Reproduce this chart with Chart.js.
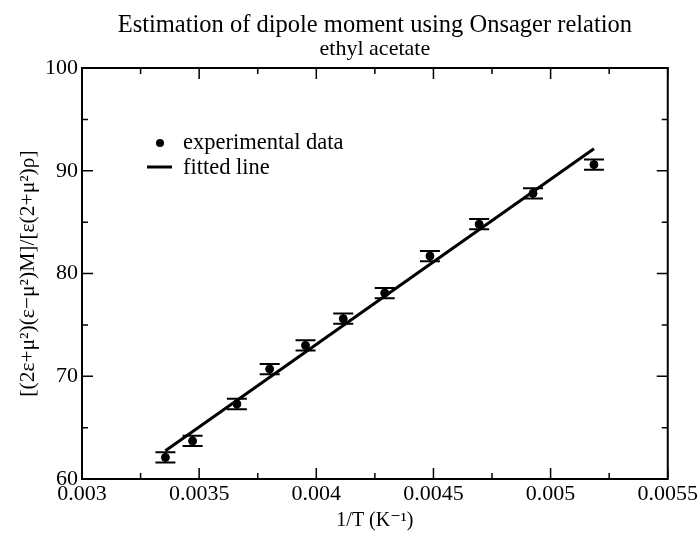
<!DOCTYPE html>
<html>
<head>
<meta charset="utf-8">
<script src="https://cdn.jsdelivr.net/npm/chart.js@4/dist/chart.umd.min.js"></script>
<style>
  html, body { margin: 0; padding: 0; background: #fff; }
  #wrap { width: 700px; height: 536px; }
</style>
</head>
<body>
<div id="wrap"><canvas id="c"></canvas></div>
<script>
// données
const invT = [0.003356, 0.003472, 0.003661, 0.003801, 0.003954, 0.004115, 0.004292, 0.004485, 0.004695, 0.004925, 0.005185];
const onsager = [62.1, 63.7, 67.3, 70.7, 73.0, 75.6, 78.1, 81.7, 84.8, 87.8, 90.6];
const errY = [0.5, 0.5, 0.5, 0.5, 0.5, 0.5, 0.5, 0.5, 0.5, 0.5, 0.5];
const fitX = [0.003356, 0.005185];
const fitY = [62.75, 92.15];
const xTicks = [0.003, 0.0035, 0.004, 0.0045, 0.005, 0.0055];
const xLabels = ["0.003", "0.0035", "0.004", "0.0045", "0.005", "0.0055"];
const yTicks = [60, 70, 80, 90, 100];

const serif = "'Liberation Serif', 'DejaVu Serif', serif";

// axes, ticks vers l'intérieur, barres d'erreur, légende, titre
const decor = {
  id: "decor",
  beforeDatasetsDraw(chart) {
    const { ctx, scales: { x, y } } = chart;
    ctx.save();
    ctx.strokeStyle = "#000";
    ctx.lineWidth = 2;
    ctx.beginPath();
    for (let i = 0; i < invT.length; i++) {
      const px = x.getPixelForValue(invT[i]);
      const top = y.getPixelForValue(onsager[i] + errY[i]);
      const bot = y.getPixelForValue(onsager[i] - errY[i]);
      ctx.moveTo(px, top); ctx.lineTo(px, bot);
      ctx.moveTo(px - 10, top); ctx.lineTo(px + 10, top);
      ctx.moveTo(px - 10, bot); ctx.lineTo(px + 10, bot);
    }
    ctx.stroke();
    ctx.restore();
  },
  afterDraw(chart) {
    const { ctx, chartArea: a, scales: { x, y } } = chart;
    ctx.save();
    ctx.strokeStyle = "#000";
    ctx.lineWidth = 2;
    ctx.strokeRect(a.left, a.top, a.right - a.left, a.bottom - a.top);

    ctx.lineWidth = 1.5;
    ctx.beginPath();
    const major = 11, minor = 6;
    xTicks.forEach((v, i) => {
      const px = x.getPixelForValue(v);
      ctx.moveTo(px, a.bottom); ctx.lineTo(px, a.bottom - major);
      ctx.moveTo(px, a.top); ctx.lineTo(px, a.top + major);
      if (i > 0) {
        const pm = x.getPixelForValue((xTicks[i - 1] + v) / 2);
        ctx.moveTo(pm, a.bottom); ctx.lineTo(pm, a.bottom - minor);
        ctx.moveTo(pm, a.top); ctx.lineTo(pm, a.top + minor);
      }
    });
    yTicks.forEach((v, i) => {
      const py = y.getPixelForValue(v);
      ctx.moveTo(a.left, py); ctx.lineTo(a.left + major, py);
      ctx.moveTo(a.right, py); ctx.lineTo(a.right - major, py);
      if (i > 0) {
        const pm = y.getPixelForValue((yTicks[i - 1] + v) / 2);
        ctx.moveTo(a.left, pm); ctx.lineTo(a.left + minor, pm);
        ctx.moveTo(a.right, pm); ctx.lineTo(a.right - minor, pm);
      }
    });
    ctx.stroke();

    // légende
    ctx.fillStyle = "#000";
    ctx.beginPath();
    ctx.arc(160, 143, 4, 0, Math.PI * 2);
    ctx.fill();
    ctx.lineWidth = 3;
    ctx.beginPath();
    ctx.moveTo(147, 167); ctx.lineTo(172, 167);
    ctx.stroke();
    ctx.font = "22.5px " + serif;
    ctx.textBaseline = "middle";
    ctx.textAlign = "left";
    ctx.fillText("experimental data", 183, 143);
    ctx.fillText("fitted line", 183, 168);

    // titre
    const cx = (a.left + a.right) / 2;
    ctx.textAlign = "center";
    ctx.textBaseline = "alphabetic";
    ctx.font = "24.5px " + serif;
    ctx.fillText("Estimation of dipole moment using Onsager relation", cx, 32);
    ctx.font = "22px " + serif;
    ctx.fillText("ethyl acetate", cx, 55);
    ctx.restore();
  }
};

new Chart(document.getElementById("c").getContext("2d"), {
  type: "scatter",
  data: {
    datasets: [
      {
        label: "experimental data",
        data: invT.map((v, i) => ({ x: v, y: onsager[i] })),
        pointRadius: 4,
        pointBackgroundColor: "#000",
        pointBorderColor: "#000",
        showLine: false
      },
      {
        label: "fitted line",
        data: fitX.map((v, i) => ({ x: v, y: fitY[i] })),
        showLine: true,
        borderColor: "#000",
        borderWidth: 3,
        pointRadius: 0
      }
    ]
  },
  options: {
    animation: false,
    responsive: true,
    maintainAspectRatio: false,
    layout: { padding: { top: 68, right: 31, left: 0, bottom: 0 } },
    plugins: {
      legend: { display: false },
      title: { display: false },
      tooltip: { enabled: false }
    },
    scales: {
      x: {
        type: "linear",
        min: 0.003,
        max: 0.0055,
        afterBuildTicks: (s) => { s.ticks = xTicks.map(v => ({ value: v })); },
        afterFit: (s) => { s.height = 57; },
        grid: { display: false, drawTicks: false },
        border: { display: false },
        ticks: {
          color: "#000",
          padding: 2,
          maxRotation: 0,
          font: { family: serif, size: 22 },
          callback: (v) => xLabels[xTicks.findIndex(t => Math.abs(t - v) < 1e-9)]
        },
        title: {
          display: true,
          text: "1/T (K\u207B\u00B9)",
          color: "#000",
          font: { family: serif, size: 20 },
          padding: { top: 0, bottom: 3 }
        }
      },
      y: {
        type: "linear",
        min: 60,
        max: 100,
        afterBuildTicks: (s) => { s.ticks = yTicks.map(v => ({ value: v })); },
        afterFit: (s) => { s.width = 82; },
        grid: { display: false, drawTicks: false },
        border: { display: false },
        ticks: {
          color: "#000",
          padding: 4,
          font: { family: serif, size: 22 }
        },
        title: {
          display: true,
          text: "[(2\u03B5+\u03BC\u00B2)(\u03B5\u2212\u03BC\u00B2)M]/[\u03B5(2+\u03BC\u00B2)\u03C1]",
          color: "#000",
          font: { family: serif, size: 21.5 },
          padding: { top: 15, bottom: 0 }
        }
      }
    }
  },
  plugins: [decor]
});
</script>
</body>
</html>
